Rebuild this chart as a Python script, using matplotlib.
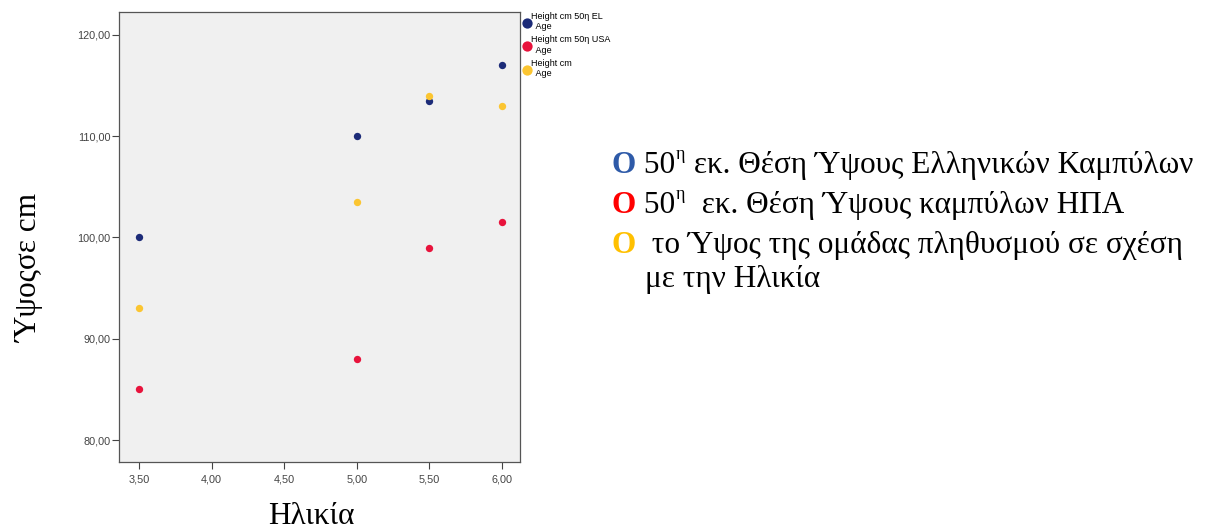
import matplotlib
matplotlib.use('Agg')
from matplotlib import pyplot as plt
from matplotlib.ticker import FuncFormatter

# Data
ages = [3.5, 5.0, 5.5, 6.0]
height_el = [100, 110, 113.5, 117]
height_usa = [85, 88, 99, 101.5]
height_group = [93, 103.5, 114, 113]

series_labels = ['Height cm 50η EL\n  Age', 'Height cm 50η USA\n  Age', 'Height cm\n  Age']
x_ticks = [3.5, 4.0, 4.5, 5.0, 5.5, 6.0]
y_ticks = [80, 90, 100, 110, 120]

note_lines = [
    ('O', '#2e5aa8', ' 50', 'η', ' εκ. Θέση Ύψους Ελληνικών Καμπύλων'),
    ('O', '#ff0000', ' 50', 'η', '  εκ. Θέση Ύψους καμπύλων ΗΠΑ'),
    ('O', '#ffc000', '  το Ύψος της ομάδας πληθυσμού σε σχέση', '', ''),
]

fig = plt.figure(figsize=(12.15, 5.29), dpi=100)
ax = fig.add_axes([0.0979, 0.1267, 0.3301, 0.8506])
ax.set_facecolor('#f0f0f0')

colors = ['#1c2b78', '#e8133c', '#fbc531']
for ys, c, lab in zip([height_el, height_usa, height_group], colors, series_labels):
    ax.scatter(ages, ys, s=28, color=c, label=lab, zorder=3, linewidths=0)

ax.set_xlim(3.362, 6.124)
ax.set_ylim(77.83, 122.27)
ax.set_xticks(x_ticks)
ax.set_yticks(y_ticks)
fmt = FuncFormatter(lambda v, p: ('%.2f' % v).replace('.', ','))
ax.xaxis.set_major_formatter(fmt)
ax.yaxis.set_major_formatter(fmt)
ax.tick_params(axis='both', labelsize=7.8, colors='#444444', length=5, width=0.8)
ax.tick_params(axis='y', pad=1)
ax.tick_params(axis='x', pad=4)
for lbl in ax.get_xticklabels() + ax.get_yticklabels():
    lbl.set_fontfamily('Liberation Sans')
for sp in ax.spines.values():
    sp.set_color('#555555')
    sp.set_linewidth(0.9)

# axis titles
fig.text(311 / 1215, 1 - 516 / 529, 'Ηλικία', family='Liberation Serif',
         fontsize=22.5, ha='center', va='center')
fig.text(30 / 1215, 1 - 268 / 529, 'Ύψοςσε cm', family='Liberation Serif',
         fontsize=22.5, ha='center', va='center', rotation=90)

# small legend at top right
leg = ax.legend(loc='upper left', bbox_to_anchor=(1.003, 1.006), frameon=False,
                prop={'family': 'Liberation Sans', 'size': 6.5}, handlelength=0.6,
                handletextpad=0.2, labelspacing=0.45, borderaxespad=0.0,
                markerscale=1.4, borderpad=0.3)

# annotation lines on the right
base_y = [173, 213, 253]
for (mark, col, t1, sup, t2), yy in zip(note_lines, base_y):
    o = fig.text(612 / 1215, 1 - yy / 529, mark, color=col, fontweight='bold',
                 family='Liberation Serif', fontsize=22.5, va='baseline')
    a = ax.annotate(t1, xy=(1, 0), xycoords=o, va='bottom', ha='left',
                    family='Liberation Serif', fontsize=22.5)
    if sup:
        s = ax.annotate(sup, xy=(1, 0.6), xycoords=a, va='bottom', ha='left',
                        family='Liberation Serif', fontsize=13)
        ax.annotate(t2, xy=(1, 0), xycoords=a, xytext=(8, 0), textcoords='offset points',
                    va='bottom', ha='left', family='Liberation Serif', fontsize=22.5)
fig.text(645 / 1215, 1 - 287 / 529, 'με την Ηλικία', family='Liberation Serif',
         fontsize=22.5, va='baseline')

fig.savefig('out.png', dpi=100)
